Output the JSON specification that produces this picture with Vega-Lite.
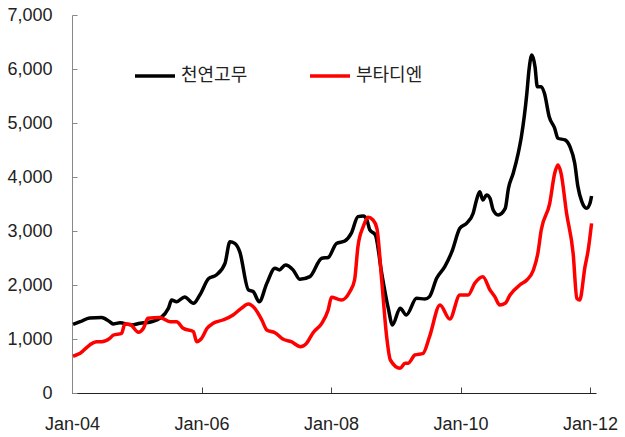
{
  "$schema": "https://vega.github.io/schema/vega-lite/v6.json",
  "width": 524,
  "height": 378,
  "autosize": "none",
  "padding": {"left": 72, "top": 15, "right": 29, "bottom": 44},
  "background": "white",
  "config": {"view": {"stroke": null}},
  "data": {
    "values": [
      {"date":"2004-01-07T00:00:00","series":"천연고무","value":1270},{"date":"2004-02-16T00:00:00","series":"천연고무","value":1320},{"date":"2004-04-10T00:00:00","series":"천연고무","value":1390},{"date":"2004-06-16T00:00:00","series":"천연고무","value":1400},{"date":"2004-08-01T00:00:00","series":"천연고무","value":1320},{"date":"2004-08-19T00:00:00","series":"천연고무","value":1280},{"date":"2004-09-28T00:00:00","series":"천연고무","value":1300},{"date":"2004-12-01T00:00:00","series":"천연고무","value":1260},
      {"date":"2005-01-19T00:00:00","series":"천연고무","value":1290},{"date":"2005-03-25T00:00:00","series":"천연고무","value":1320},{"date":"2005-05-10T00:00:00","series":"천연고무","value":1380},{"date":"2005-06-28T00:00:00","series":"천연고무","value":1570},{"date":"2005-07-16T00:00:00","series":"천연고무","value":1720},{"date":"2005-08-13T00:00:00","series":"천연고무","value":1690},{"date":"2005-09-28T00:00:00","series":"천연고무","value":1780},{"date":"2005-11-16T00:00:00","series":"천연고무","value":1660},{"date":"2005-12-22T00:00:00","series":"천연고무","value":1815},
      {"date":"2006-02-10T00:00:00","series":"천연고무","value":2120},{"date":"2006-03-25T00:00:00","series":"천연고무","value":2185},{"date":"2006-05-13T00:00:00","series":"천연고무","value":2400},{"date":"2006-06-10T00:00:00","series":"천연고무","value":2800},{"date":"2006-07-07T00:00:00","series":"천연고무","value":2770},{"date":"2006-08-04T00:00:00","series":"천연고무","value":2620},{"date":"2006-09-22T00:00:00","series":"천연고무","value":1910},{"date":"2006-10-19T00:00:00","series":"천연고무","value":1880},{"date":"2006-11-22T00:00:00","series":"천연고무","value":1690},
      {"date":"2007-01-04T00:00:00","series":"천연고무","value":2030},{"date":"2007-02-19T00:00:00","series":"천연고무","value":2310},{"date":"2007-03-16T00:00:00","series":"천연고무","value":2280},{"date":"2007-04-19T00:00:00","series":"천연고무","value":2370},{"date":"2007-06-01T00:00:00","series":"천연고무","value":2280},{"date":"2007-07-10T00:00:00","series":"천연고무","value":2105},{"date":"2007-09-04T00:00:00","series":"천연고무","value":2155},{"date":"2007-11-10T00:00:00","series":"천연고무","value":2495},{"date":"2007-12-16T00:00:00","series":"천연고무","value":2510},
      {"date":"2008-02-01T00:00:00","series":"천연고무","value":2770},{"date":"2008-03-19T00:00:00","series":"천연고무","value":2815},{"date":"2008-04-25T00:00:00","series":"천연고무","value":2960},{"date":"2008-06-01T00:00:00","series":"천연고무","value":3265},{"date":"2008-07-01T00:00:00","series":"천연고무","value":3280},{"date":"2008-07-22T00:00:00","series":"천연고무","value":3200},{"date":"2008-08-07T00:00:00","series":"천연고무","value":3020},{"date":"2008-09-07T00:00:00","series":"천연고무","value":2930},{"date":"2008-10-13T00:00:00","series":"천연고무","value":2220},{"date":"2008-11-19T00:00:00","series":"천연고무","value":1570},{"date":"2008-12-13T00:00:00","series":"천연고무","value":1260},
      {"date":"2009-01-25T00:00:00","series":"천연고무","value":1570},{"date":"2009-03-01T00:00:00","series":"천연고무","value":1445},{"date":"2009-04-28T00:00:00","series":"천연고무","value":1755},{"date":"2009-06-13T00:00:00","series":"천연고무","value":1740},{"date":"2009-07-10T00:00:00","series":"천연고무","value":1785},{"date":"2009-08-19T00:00:00","series":"천연고무","value":2124},{"date":"2009-10-04T00:00:00","series":"천연고무","value":2340},{"date":"2009-11-13T00:00:00","series":"천연고무","value":2617},{"date":"2009-12-28T00:00:00","series":"천연고무","value":3050},
      {"date":"2010-02-04T00:00:00","series":"천연고무","value":3142},{"date":"2010-03-13T00:00:00","series":"천연고무","value":3328},{"date":"2010-04-01T00:00:00","series":"천연고무","value":3574},{"date":"2010-04-19T00:00:00","series":"천연고무","value":3728},{"date":"2010-05-07T00:00:00","series":"천연고무","value":3574},{"date":"2010-05-28T00:00:00","series":"천연고무","value":3667},{"date":"2010-06-16T00:00:00","series":"천연고무","value":3605},{"date":"2010-07-04T00:00:00","series":"천연고무","value":3389},{"date":"2010-08-01T00:00:00","series":"천연고무","value":3297},{"date":"2010-09-10T00:00:00","series":"천연고무","value":3420},{"date":"2010-09-28T00:00:00","series":"천연고무","value":3791},{"date":"2010-10-25T00:00:00","series":"천연고무","value":4069},{"date":"2010-11-22T00:00:00","series":"천연고무","value":4439},{"date":"2010-12-10T00:00:00","series":"천연고무","value":4747},
      {"date":"2011-01-10T00:00:00","series":"천연고무","value":5551},{"date":"2011-01-22T00:00:00","series":"천연고무","value":5982},{"date":"2011-02-07T00:00:00","series":"천연고무","value":6260},{"date":"2011-02-25T00:00:00","series":"천연고무","value":6043},{"date":"2011-03-10T00:00:00","series":"천연고무","value":5673},{"date":"2011-04-01T00:00:00","series":"천연고무","value":5673},{"date":"2011-04-19T00:00:00","series":"천연고무","value":5551},{"date":"2011-05-16T00:00:00","series":"천연고무","value":5117},{"date":"2011-06-16T00:00:00","series":"천연고무","value":4902},{"date":"2011-07-04T00:00:00","series":"천연고무","value":4717},{"date":"2011-08-13T00:00:00","series":"천연고무","value":4686},{"date":"2011-09-10T00:00:00","series":"천연고무","value":4562},{"date":"2011-10-07T00:00:00","series":"천연고무","value":4254},{"date":"2011-10-25T00:00:00","series":"천연고무","value":3821},{"date":"2011-11-16T00:00:00","series":"천연고무","value":3543},{"date":"2011-12-13T00:00:00","series":"천연고무","value":3420},
      {"date":"2012-01-01T00:00:00","series":"천연고무","value":3513},{"date":"2012-01-10T00:00:00","series":"천연고무","value":3648},

      {"date":"2004-01-07T00:00:00","series":"부타디엔","value":680},{"date":"2004-02-16T00:00:00","series":"부타디엔","value":735},{"date":"2004-04-10T00:00:00","series":"부타디엔","value":890},{"date":"2004-05-19T00:00:00","series":"부타디엔","value":950},{"date":"2004-06-16T00:00:00","series":"부타디엔","value":950},{"date":"2004-08-01T00:00:00","series":"부타디엔","value":1013},{"date":"2004-08-22T00:00:00","series":"부타디엔","value":1074},{"date":"2004-10-07T00:00:00","series":"부타디엔","value":1105},{"date":"2004-10-25T00:00:00","series":"부타디엔","value":1278},{"date":"2004-11-22T00:00:00","series":"부타디엔","value":1272},
      {"date":"2005-01-10T00:00:00","series":"부타디엔","value":1124},{"date":"2005-02-07T00:00:00","series":"부타디엔","value":1198},{"date":"2005-03-04T00:00:00","series":"부타디엔","value":1383},{"date":"2005-05-10T00:00:00","series":"부타디엔","value":1400},{"date":"2005-07-07T00:00:00","series":"부타디엔","value":1320},{"date":"2005-08-13T00:00:00","series":"부타디엔","value":1320},{"date":"2005-09-19T00:00:00","series":"부타디엔","value":1198},{"date":"2005-11-16T00:00:00","series":"부타디엔","value":1136},{"date":"2005-12-04T00:00:00","series":"부타디엔","value":950},
      {"date":"2006-01-01T00:00:00","series":"부타디엔","value":1013},{"date":"2006-02-01T00:00:00","series":"부타디엔","value":1198},{"date":"2006-03-07T00:00:00","series":"부타디엔","value":1290},{"date":"2006-05-01T00:00:00","series":"부타디엔","value":1352},{"date":"2006-06-28T00:00:00","series":"부타디엔","value":1445},{"date":"2006-08-13T00:00:00","series":"부타디엔","value":1568},{"date":"2006-09-22T00:00:00","series":"부타디엔","value":1648},{"date":"2006-10-28T00:00:00","series":"부타디엔","value":1568},{"date":"2006-12-07T00:00:00","series":"부타디엔","value":1352},
      {"date":"2007-01-04T00:00:00","series":"부타디엔","value":1167},{"date":"2007-02-19T00:00:00","series":"부타디엔","value":1117},{"date":"2007-04-07T00:00:00","series":"부타디엔","value":994},{"date":"2007-05-22T00:00:00","series":"부타디엔","value":950},{"date":"2007-07-13T00:00:00","series":"부타디엔","value":857},{"date":"2007-08-16T00:00:00","series":"부타디엔","value":920},{"date":"2007-09-22T00:00:00","series":"부타디엔","value":1117},{"date":"2007-11-10T00:00:00","series":"부타디엔","value":1290},{"date":"2007-12-16T00:00:00","series":"부타디엔","value":1537},
      {"date":"2008-01-04T00:00:00","series":"부타디엔","value":1772},{"date":"2008-02-28T00:00:00","series":"부타디엔","value":1722},{"date":"2008-04-16T00:00:00","series":"부타디엔","value":1876},{"date":"2008-05-13T00:00:00","series":"부타디엔","value":2093},{"date":"2008-06-01T00:00:00","series":"부타디엔","value":2710},{"date":"2008-07-01T00:00:00","series":"부타디엔","value":3080},{"date":"2008-07-28T00:00:00","series":"부타디엔","value":3254},{"date":"2008-08-25T00:00:00","series":"부타디엔","value":3204},{"date":"2008-09-16T00:00:00","series":"부타디엔","value":3050},{"date":"2008-10-13T00:00:00","series":"부타디엔","value":2093},{"date":"2008-11-10T00:00:00","series":"부타디엔","value":1043},{"date":"2008-12-01T00:00:00","series":"부타디엔","value":611},
      {"date":"2009-01-25T00:00:00","series":"부타디엔","value":457},{"date":"2009-02-22T00:00:00","series":"부타디엔","value":550},{"date":"2009-03-10T00:00:00","series":"부타디엔","value":550},{"date":"2009-04-19T00:00:00","series":"부타디엔","value":704},{"date":"2009-06-04T00:00:00","series":"부타디엔","value":735},{"date":"2009-07-10T00:00:00","series":"부타디엔","value":1043},{"date":"2009-09-07T00:00:00","series":"부타디엔","value":1630},{"date":"2009-11-01T00:00:00","series":"부타디엔","value":1370},{"date":"2009-12-28T00:00:00","series":"부타디엔","value":1815},
      {"date":"2010-02-13T00:00:00","series":"부타디엔","value":1815},{"date":"2010-03-22T00:00:00","series":"부타디엔","value":2031},{"date":"2010-05-07T00:00:00","series":"부타디엔","value":2154},{"date":"2010-06-16T00:00:00","series":"부타디엔","value":1907},{"date":"2010-07-13T00:00:00","series":"부타디엔","value":1784},{"date":"2010-08-10T00:00:00","series":"부타디엔","value":1630},{"date":"2010-09-10T00:00:00","series":"부타디엔","value":1660},{"date":"2010-10-07T00:00:00","series":"부타디엔","value":1815},{"date":"2010-12-01T00:00:00","series":"부타디엔","value":2000},
      {"date":"2011-01-10T00:00:00","series":"부타디엔","value":2093},{"date":"2011-02-16T00:00:00","series":"부타디엔","value":2278},{"date":"2011-03-13T00:00:00","series":"부타디엔","value":2587},{"date":"2011-04-01T00:00:00","series":"부타디엔","value":3019},{"date":"2011-05-19T00:00:00","series":"부타디엔","value":3513},{"date":"2011-06-16T00:00:00","series":"부타디엔","value":4069},{"date":"2011-07-04T00:00:00","series":"부타디엔","value":4222},{"date":"2011-07-22T00:00:00","series":"부타디엔","value":4069},{"date":"2011-08-22T00:00:00","series":"부타디엔","value":3328},{"date":"2011-09-28T00:00:00","series":"부타디엔","value":2587},{"date":"2011-10-19T00:00:00","series":"부타디엔","value":1754},{"date":"2011-11-04T00:00:00","series":"부타디엔","value":1722},{"date":"2011-12-04T00:00:00","series":"부타디엔","value":2340},{"date":"2011-12-22T00:00:00","series":"부타디엔","value":2648},
      {"date":"2012-01-10T00:00:00","series":"부타디엔","value":3142}
    ]
  },
  "mark": {"type": "line", "interpolate": "monotone", "strokeWidth": 3.5},
  "encoding": {
    "x": {
      "field": "date", "type": "temporal",
      "scale": {"domain": [{"year": 2004, "month": 1, "date": 1}, {"year": 2012, "month": 2, "date": 4}]},
      "axis": {
        "title": null, "grid": false,
        "values": [{"year": 2004, "month": 1, "date": 1}, {"year": 2006, "month": 1, "date": 1}, {"year": 2008, "month": 1, "date": 1}, {"year": 2010, "month": 1, "date": 1}, {"year": 2012, "month": 1, "date": 1}],
        "format": "%b-%y", "labelFont": "Liberation Sans", "labelFontSize": 18, "labelColor": "#222",
        "domainColor": "#222", "tickColor": "#444", "tickSize": -6, "labelPadding": 28, "labelFlush": false, "labelOverlap": false
      }
    },
    "y": {
      "field": "value", "type": "quantitative",
      "scale": {"domain": [0, 7000], "nice": false},
      "axis": {
        "title": null, "grid": false, "values": [0,1000,2000,3000,4000,5000,6000,7000],
        "format": ",d", "labelFont": "Liberation Sans", "labelFontSize": 18, "labelColor": "#222",
        "domainColor": "#888", "tickColor": "#888", "tickSize": -5, "labelPadding": 25
      }
    },
    "color": {
      "field": "series", "type": "nominal",
      "scale": {"domain": ["천연고무", "부타디엔"], "range": ["#000000", "#ff0000"]},
      "legend": {
        "title": null, "orient": "none", "legendX": 61, "legendY": 39, "direction": "horizontal",
        "symbolType": "stroke", "symbolSize": 1600, "symbolStrokeWidth": 3.5,
        "labelFont": "Noto Sans CJK KR", "labelFontSize": 18, "labelColor": "#222", "labelOffset": 4,
        "columnPadding": 55
      }
    }
  }
}
